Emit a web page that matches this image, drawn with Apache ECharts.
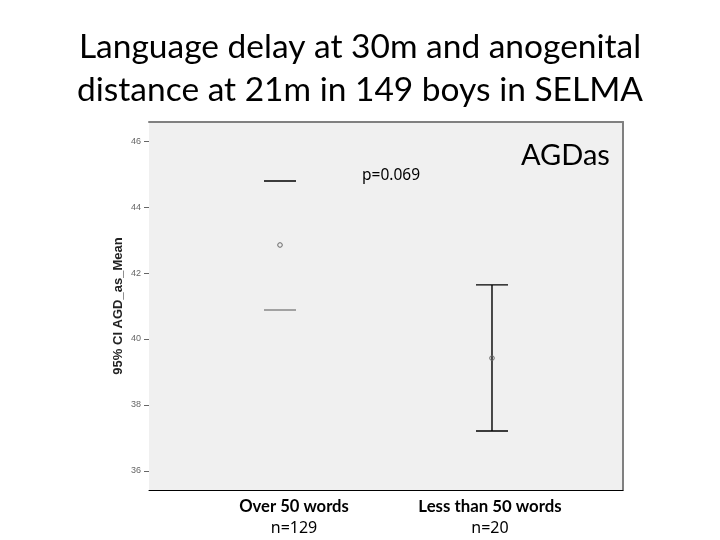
<!DOCTYPE html>
<html><head><meta charset="utf-8">
<script src="https://cdn.jsdelivr.net/npm/echarts@6/dist/echarts.min.js"></script>
<style>html,body{margin:0;padding:0;background:#fff}#c{width:720px;height:540px}</style>
</head><body><div id="c"></div>
<script>
const titleLines = ['Language delay at 30m and anogenital', 'distance at 21m in 149 boys in SELMA'];
const groupLabels = ['Over 50 words', 'Less than 50 words'];
const groupN = ['n=129', 'n=20'];
const groupX = [1, 2];
const ciLow = [40.88, 37.21];
const means = [42.85, 39.42];
const ciHigh = [44.79, 41.64];
const stemVisible = [false, true];
const topCapColor = ['#000', '#000'];
const bottomCapColor = ['#888', '#000'];
const yTicks = [36, 38, 40, 42, 44, 46];
const pText = 'p=0.069';
const legendText = 'AGDas';
const yTitle = '95% CI AGD_as_Mean';

const data = groupX.map((x, i) => [x, ciLow[i], means[i], ciHigh[i], i]);
const chart = echarts.init(document.getElementById('c'));
chart.setOption({
  backgroundColor: '#fff',
  animation: false,
  title: {
    text: titleLines.join('\n'), left: 'center', top: 21,
    textStyle: { fontFamily: 'Lato', fontSize: 33.5, fontWeight: 'normal', color: '#000', lineHeight: 43 }
  },
  grid: { left: 149, right: 97, top: 122, bottom: 50, show: true, backgroundColor: '#f0f0f0', borderWidth: 0 },
  xAxis: [
    { type: 'value', min: 0.382, max: 2.618, position: 'bottom',
      axisLine: { show: true, onZero: false, lineStyle: { color: '#000', width: 1 } },
      axisTick: { show: false }, axisLabel: { show: false }, splitLine: { show: false } },
    { type: 'value', min: 0.382, max: 2.618, position: 'top',
      axisLine: { show: true, onZero: false, lineStyle: { color: '#808080', width: 2 } },
      axisTick: { show: false }, axisLabel: { show: false }, splitLine: { show: false } }
  ],
  yAxis: [
    { type: 'value', min: 35.42, max: 46.58, position: 'left',
      name: yTitle, nameLocation: 'middle', nameGap: 24, nameMoveOverlap: false,
      nameTextStyle: { fontFamily: 'Liberation Sans', fontWeight: 'bold', fontSize: 13, color: '#222' },
      axisLine: { show: false },
      axisTick: { show: true, customValues: yTicks, length: 5, lineStyle: { color: '#666' } },
      axisLabel: { customValues: yTicks, fontFamily: 'Liberation Sans', fontSize: 9, color: '#666', margin: 8 },
      splitLine: { show: false } },
    { type: 'value', min: 35.42, max: 46.58, position: 'right',
      axisLine: { show: true, onZero: false, lineStyle: { color: '#808080', width: 2 } },
      axisTick: { show: false }, axisLabel: { show: false }, splitLine: { show: false } }
  ],
  series: [{
    type: 'custom',
    data: data,
    renderItem: function (params, api) {
      const x = api.value(0), lo = api.value(1), m = api.value(2), hi = api.value(3), i = api.value(4);
      const pLo = api.coord([x, lo]), pM = api.coord([x, m]), pHi = api.coord([x, hi]);
      const half = 16;
      const children = [
        { type: 'line', shape: { x1: pHi[0] - half, y1: pHi[1], x2: pHi[0] + half, y2: pHi[1] }, style: { stroke: topCapColor[i], lineWidth: 1.4 } },
        { type: 'line', shape: { x1: pLo[0] - half, y1: pLo[1], x2: pLo[0] + half, y2: pLo[1] }, style: { stroke: bottomCapColor[i], lineWidth: 1.4 } },
        { type: 'circle', shape: { cx: pM[0], cy: pM[1], r: 2.3 }, style: { fill: 'none', stroke: '#666', lineWidth: 1 } }
      ];
      if (stemVisible[i]) {
        children.unshift({ type: 'line', shape: { x1: pLo[0], y1: pLo[1], x2: pHi[0], y2: pHi[1] }, style: { stroke: '#000', lineWidth: 1.4 } });
      }
      return { type: 'group', children: children };
    }
  }],
  graphic: [
    { type: 'text', left: 362, top: 168, style: { text: pText, fontFamily: 'Noto Sans', fontSize: 15.5, fill: '#000' } },
    { type: 'text', left: 521, top: 141, style: { text: legendText, fontFamily: 'Lato', fontSize: 29, fill: '#000' } },
    { type: 'text', x: 294, y: 507, style: { text: groupLabels[0], fontFamily: 'Lato', fontWeight: 'bold', fontSize: 16.6, fill: '#000', align: 'center', verticalAlign: 'middle' } },
    { type: 'text', x: 490, y: 507, style: { text: groupLabels[1], fontFamily: 'Lato', fontWeight: 'bold', fontSize: 16.8, fill: '#000', align: 'center', verticalAlign: 'middle' } },
    { type: 'text', x: 294, y: 528, style: { text: groupN[0], fontFamily: 'Noto Sans', fontSize: 16, fill: '#000', align: 'center', verticalAlign: 'middle' } },
    { type: 'text', x: 490, y: 528, style: { text: groupN[1], fontFamily: 'Noto Sans', fontSize: 16, fill: '#000', align: 'center', verticalAlign: 'middle' } }
  ]
});
</script></body></html>
